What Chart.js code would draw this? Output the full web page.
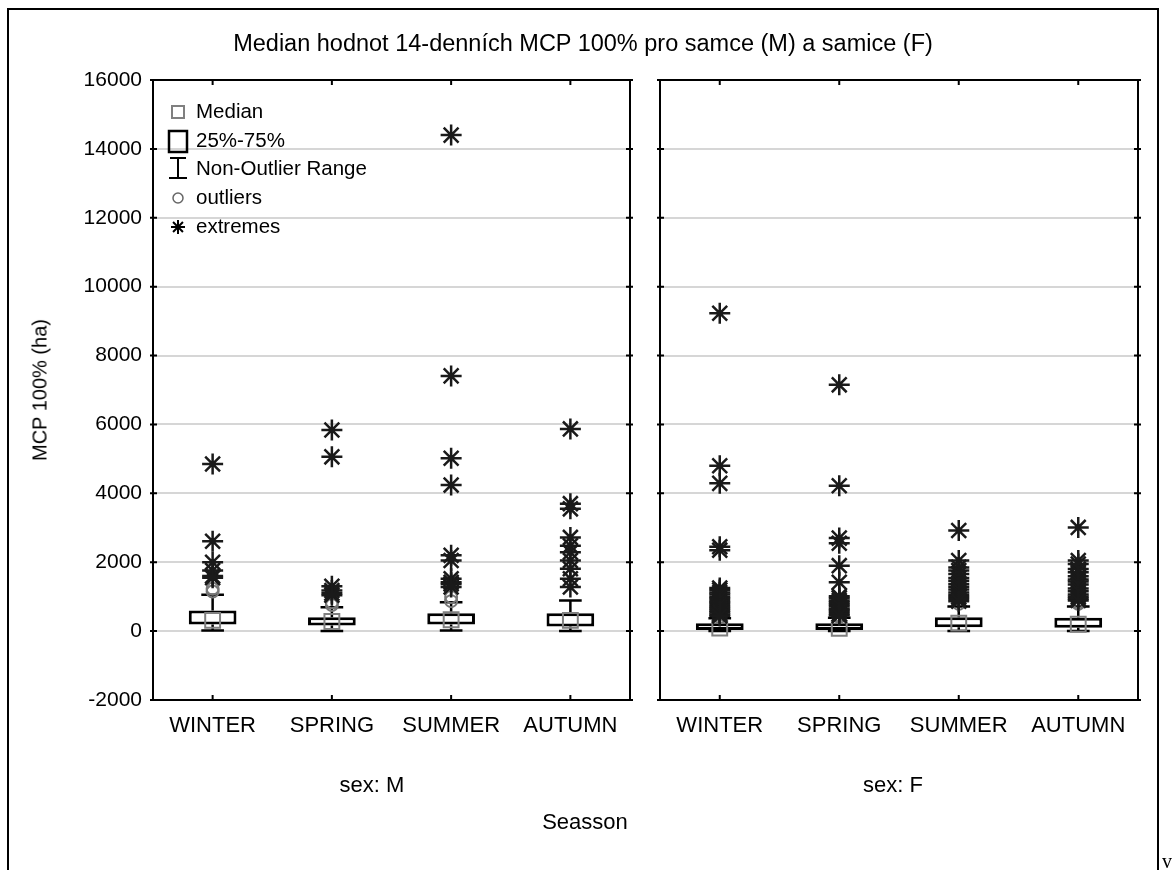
<!DOCTYPE html>
<html>
<head>
<meta charset="utf-8">
<script src="https://cdn.jsdelivr.net/npm/chart.js@4.4.1/dist/chart.umd.min.js"></script>
<style>
  html, body { margin: 0; padding: 0; background: #fff; }
  body { width: 1173px; height: 870px; position: relative; overflow: hidden; font-family: "Liberation Sans", Arial, sans-serif; color: #000; }
  #frame { position: absolute; left: 7px; top: 8px; width: 1152px; height: 900px; border: 2px solid #000; box-sizing: border-box; }
  canvas { position: absolute; left: 0; top: 0; }
  .lbl { position: absolute; font-size: 22px; white-space: nowrap; transform: translate(-50%, -50%); }
</style>
</head>
<body>
<div id="frame"></div>
<canvas id="chartM" width="1173" height="870"></canvas>
<canvas id="chartF" width="1173" height="870"></canvas>
<div class="lbl" style="left:583px; top:43px; font-size:23.5px;">Median hodnot 14-denních MCP 100% pro samce (M) a samice (F)</div>
<div class="lbl" style="left:40px; top:390px; font-size:20px; transform: translate(-50%, -50%) rotate(-90deg);">MCP 100% (ha)</div>
<div class="lbl" style="left:372px; top:785px;">sex: M</div>
<div class="lbl" style="left:893px; top:785px;">sex: F</div>
<div class="lbl" style="left:585px; top:822px;">Seasson</div>
<div style="position:absolute; left:1162px; top:850px; font: 20px 'Liberation Serif', serif;">v</div>

<script>
// categories and y ticks
const seasons = ['WINTER', 'SPRING', 'SUMMER', 'AUTUMN'];
const yTickLabels = [-2000, 0, 2000, 4000, 6000, 8000, 10000, 12000, 14000, 16000];

// sex: M
const mMedian = [310, 280, 330, 310];
const mQ1 = [195, 165, 195, 135];
const mQ3 = [600, 405, 520, 520];
const mLow = [20, 0, 20, 0];
const mHigh = [1055, 695, 835, 890];
const mOutliers = [[1150, 1230], [760, 840], [870, 990], []];
const mExtremes = [
  [4850, 2610, 2000, 1760, 1600, 1550],
  [5840, 5060, 1300, 1180, 1100, 1040],
  [14400, 7410, 5020, 4240, 2200, 2050, 1520, 1420, 1370, 1280],
  [5870, 3700, 3550, 2720, 2480, 2290, 2050, 1810, 1520, 1280]
];

// sex: F
const fMedian = [90, 80, 230, 200];
const fQ1 = [35, 35, 115, 100];
const fQ3 = [225, 225, 405, 390];
const fLow = [0, 0, 0, 0];
const fHigh = [370, 390, 715, 715];
const fOutliers = [[400], [410], [790], [790, 840]];
const fExtremes = [
  [9230, 4800, 4290, 2450, 2350, 1250, 1190, 1120, 1060, 990, 940, 870, 820, 760, 700, 650, 590, 540, 480, 440],
  [7150, 4220, 2700, 2550, 1900, 1420, 1010, 960, 890, 840, 780, 730, 660, 610, 560, 500, 450],
  [2920, 2050, 1850, 1760, 1660, 1540, 1460, 1370, 1290, 1210, 1120, 1050, 990, 930, 870],
  [3010, 2050, 1950, 1800, 1710, 1590, 1500, 1440, 1350, 1240, 1160, 1060, 1000, 940, 890]
];

const fontFamily = "'Liberation Sans', Arial, sans-serif";

const toPoints = (lists) => lists.flatMap((vals, i) => vals.map(v => ({ x: seasons[i], y: v })));

// whiskers, panel frame and inner tick marks
const boxExtras = {
  id: 'boxExtras',
  beforeDatasetsDraw(chart, args, opts) {
    const { ctx, scales: { x, y } } = chart;
    const g = opts.group;
    const step = x.getPixelForValue(1) - x.getPixelForValue(0);
    const cap = step * 0.095;
    ctx.save();
    ctx.strokeStyle = '#000';
    ctx.lineWidth = 2.5;
    seasons.forEach((s, i) => {
      const cx = x.getPixelForValue(i);
      ctx.beginPath();
      ctx.moveTo(cx, y.getPixelForValue(g.low[i]));
      ctx.lineTo(cx, y.getPixelForValue(g.q1[i]));
      ctx.moveTo(cx, y.getPixelForValue(g.q3[i]));
      ctx.lineTo(cx, y.getPixelForValue(g.high[i]));
      ctx.moveTo(cx - cap, y.getPixelForValue(g.low[i]));
      ctx.lineTo(cx + cap, y.getPixelForValue(g.low[i]));
      ctx.moveTo(cx - cap, y.getPixelForValue(g.high[i]));
      ctx.lineTo(cx + cap, y.getPixelForValue(g.high[i]));
      ctx.stroke();
    });
    ctx.restore();
  },
  afterDraw(chart) {
    const { ctx, chartArea: a, scales: { x, y } } = chart;
    ctx.save();
    ctx.strokeStyle = '#000';
    ctx.lineWidth = 2;
    ctx.strokeRect(a.left, a.top, a.right - a.left, a.bottom - a.top);
    ctx.beginPath();
    yTickLabels.forEach(v => {
      const py = y.getPixelForValue(v);
      ctx.moveTo(a.left - 3, py); ctx.lineTo(a.left + 4, py);
      ctx.moveTo(a.right + 3, py); ctx.lineTo(a.right - 4, py);
    });
    seasons.forEach((s, i) => {
      const px = x.getPixelForValue(i);
      ctx.moveTo(px, a.top); ctx.lineTo(px, a.top + 5);
      ctx.moveTo(px, a.bottom); ctx.lineTo(px, a.bottom - 5);
    });
    ctx.stroke();
    ctx.restore();
  }
};

// legend box in the top-left of the M panel
const boxLegend = {
  id: 'boxLegend',
  afterDraw(chart, args, opts) {
    if (!opts.show) return;
    const { ctx } = chart;
    const mx = 178, tx = 196;
    const rows = [112, 141, 169, 198, 227];
    ctx.save();
    ctx.font = '20.5px ' + fontFamily;
    ctx.fillStyle = '#000';
    ctx.textBaseline = 'middle';
    ['Median', '25%-75%', 'Non-Outlier Range', 'outliers', 'extremes'].forEach((t, i) => ctx.fillText(t, tx, rows[i]));
    // median
    ctx.strokeStyle = '#808080'; ctx.lineWidth = 2;
    ctx.strokeRect(mx - 6, rows[0] - 6, 12, 12);
    // box
    ctx.strokeStyle = '#000'; ctx.lineWidth = 2.5;
    ctx.strokeRect(mx - 9, rows[1] - 10, 18, 21);
    // whisker
    ctx.lineWidth = 2;
    ctx.beginPath();
    ctx.moveTo(mx - 8, rows[2] - 11); ctx.lineTo(mx + 8, rows[2] - 11);
    ctx.moveTo(mx, rows[2] - 11); ctx.lineTo(mx, rows[2] + 9);
    ctx.moveTo(mx - 9, rows[2] + 9); ctx.lineTo(mx + 9, rows[2] + 9);
    ctx.stroke();
    // outliers
    ctx.strokeStyle = '#666'; ctx.lineWidth = 1.5;
    ctx.beginPath(); ctx.arc(mx, rows[3], 5, 0, Math.PI * 2); ctx.stroke();
    // extremes
    ctx.strokeStyle = '#000'; ctx.lineWidth = 2;
    ctx.beginPath();
    for (let k = 0; k < 4; k++) {
      const ang = k * Math.PI / 4;
      ctx.moveTo(mx - 7 * Math.cos(ang), rows[4] - 7 * Math.sin(ang));
      ctx.lineTo(mx + 7 * Math.cos(ang), rows[4] + 7 * Math.sin(ang));
    }
    ctx.stroke();
    ctx.restore();
  }
};

function makePanel(canvasId, g, showYLabels, padLeft, padRight) {
  return new Chart(document.getElementById(canvasId), {
    type: 'bar',
    data: {
      labels: seasons,
      datasets: [
        {
          label: '25%-75%',
          data: seasons.map((s, i) => [g.q1[i], g.q3[i]]),
          backgroundColor: '#fff',
          borderColor: '#000',
          borderWidth: 3,
          borderSkipped: false,
          barPercentage: 0.4,
          categoryPercentage: 1,
          order: 3
        },
        {
          type: 'line',
          label: 'Median',
          data: seasons.map((s, i) => ({ x: s, y: g.median[i] })),
          showLine: false,
          pointStyle: 'rect',
          pointRadius: 10.5,
          pointHoverRadius: 10.5,
          pointBorderColor: '#808080',
          pointBorderWidth: 2,
          pointBackgroundColor: 'rgba(0,0,0,0)',
          order: 2
        },
        {
          type: 'line',
          label: 'outliers',
          data: toPoints(g.outliers),
          showLine: false,
          pointStyle: 'circle',
          pointRadius: 6,
          pointHoverRadius: 6,
          pointBorderColor: '#777',
          pointBorderWidth: 2,
          pointBackgroundColor: 'rgba(0,0,0,0)',
          order: 1
        },
        {
          type: 'line',
          label: 'extremes',
          data: toPoints(g.extremes),
          showLine: false,
          pointStyle: 'star',
          pointRadius: 10.5,
          pointHoverRadius: 10.5,
          pointBorderColor: '#1a1a1a',
          pointBorderWidth: 2.5,
          order: 0
        }
      ]
    },
    options: {
      responsive: false,
      animation: false,
      events: [],
      layout: { padding: { top: 80, left: padLeft, right: padRight, bottom: 0 } },
      plugins: {
        legend: { display: false },
        tooltip: { enabled: false },
        boxExtras: { group: g },
        boxLegend: { show: showYLabels }
      },
      scales: {
        x: {
          grid: { display: false, drawTicks: false },
          border: { display: false },
          ticks: { color: '#000', font: { family: fontFamily, size: 22 }, padding: 13, autoSkip: false, maxRotation: 0 },
          afterFit: (scale) => { scale.height = 170; }
        },
        y: {
          min: yTickLabels[0],
          max: yTickLabels[yTickLabels.length - 1],
          ticks: {
            stepSize: yTickLabels[1] - yTickLabels[0],
            display: showYLabels,
            color: '#000',
            font: { family: fontFamily, size: 21 },
            padding: 11,
            callback: (v) => String(v)
          },
          grid: { color: '#d6d6d6', lineWidth: 2, drawTicks: false },
          border: { display: false },
          afterFit: (scale) => { scale.width = showYLabels ? 153 : 0; }
        }
      }
    },
    plugins: [boxExtras, boxLegend]
  });
}

makePanel('chartM', {
  median: mMedian, q1: mQ1, q3: mQ3, low: mLow, high: mHigh, outliers: mOutliers, extremes: mExtremes
}, true, 0, 1173 - 630);

makePanel('chartF', {
  median: fMedian, q1: fQ1, q3: fQ3, low: fLow, high: fHigh, outliers: fOutliers, extremes: fExtremes
}, false, 660, 1173 - 1138);
</script>
</body>
</html>
